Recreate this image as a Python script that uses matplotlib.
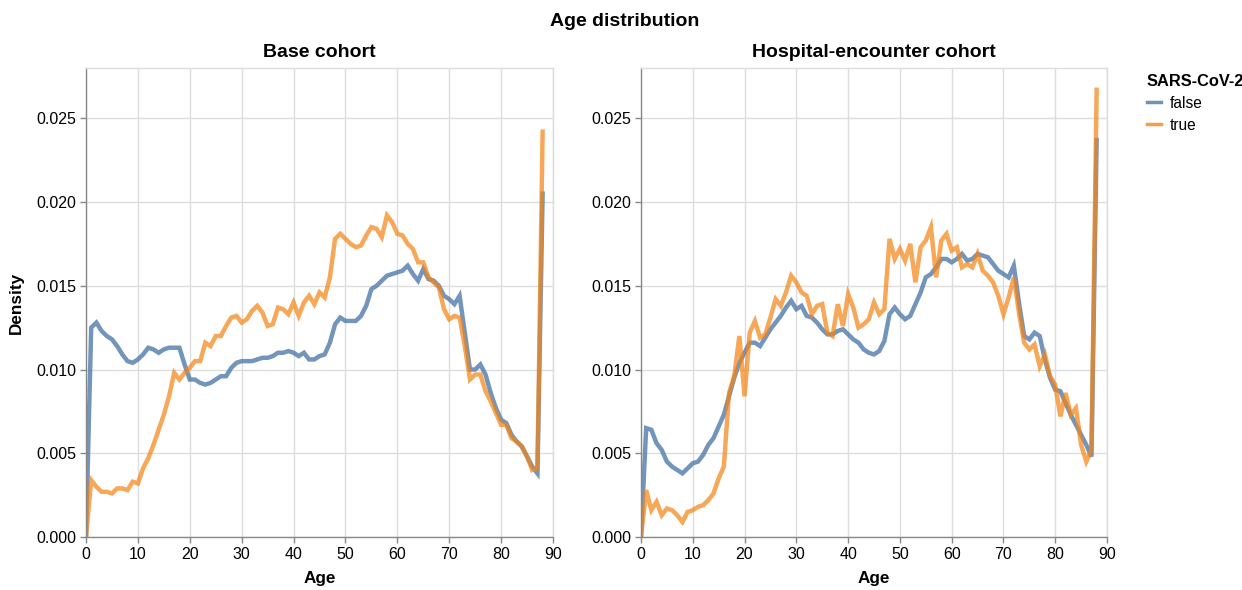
import numpy as np
import matplotlib
matplotlib.use('Agg')
import matplotlib.pyplot as plt
from matplotlib.lines import Line2D

plt.rcParams['font.family'] = ['Liberation Sans', 'DejaVu Sans']

ages = list(range(0, 89))

base_false = [0.0, 0.0125, 0.0128, 0.0123, 0.0120, 0.0118, 0.0114, 0.0109, 0.0105, 0.0104,
              0.0106, 0.0109, 0.0113, 0.0112, 0.0110, 0.0112, 0.0113, 0.0113, 0.0113, 0.0103,
              0.0094, 0.0094, 0.0092, 0.0091, 0.0092, 0.0094, 0.0096, 0.0096, 0.0101, 0.0104,
              0.0105, 0.0105, 0.0105, 0.0106, 0.0107, 0.0107, 0.0108, 0.0110, 0.0110, 0.0111,
              0.0110, 0.0108, 0.0110, 0.0106, 0.0106, 0.0108, 0.0109, 0.0116, 0.0127, 0.0131,
              0.0129, 0.0129, 0.0129, 0.0132, 0.0138, 0.0148, 0.0150, 0.0153, 0.0156, 0.0157,
              0.0158, 0.0159, 0.0162, 0.0157, 0.0153, 0.0160, 0.0154, 0.0153, 0.0150, 0.0144,
              0.0142, 0.0139, 0.0144, 0.0122, 0.0100, 0.0100, 0.0103, 0.0097, 0.0086, 0.0077,
              0.0070, 0.0068, 0.0061, 0.0057, 0.0054, 0.0048, 0.0042, 0.0038, 0.0205]

base_true = [0.0, 0.0034, 0.0030, 0.0027, 0.0027, 0.0026, 0.0029, 0.0029, 0.0028, 0.0033,
             0.0032, 0.0041, 0.0047, 0.0055, 0.0064, 0.0073, 0.0084, 0.0098, 0.0094, 0.0098,
             0.0101, 0.0105, 0.0105, 0.0116, 0.0114, 0.0120, 0.0120, 0.0126, 0.0131, 0.0132,
             0.0128, 0.0130, 0.0135, 0.0138, 0.0134, 0.0126, 0.0127, 0.0137, 0.0136, 0.0133,
             0.0140, 0.0132, 0.0140, 0.0144, 0.0139, 0.0146, 0.0143, 0.0155, 0.0178, 0.0181,
             0.0178, 0.0175, 0.0173, 0.0174, 0.0180, 0.0185, 0.0184, 0.0179, 0.0192, 0.0188,
             0.0181, 0.0180, 0.0175, 0.0172, 0.0164, 0.0164, 0.0155, 0.0152, 0.0149, 0.0136,
             0.0130, 0.0132, 0.0131, 0.0114, 0.0094, 0.0097, 0.0097, 0.0087, 0.0081, 0.0074,
             0.0067, 0.0067, 0.0059, 0.0057, 0.0054, 0.0048, 0.0040, 0.0041, 0.0242]

hosp_false = [0.0, 0.0065, 0.0064, 0.0056, 0.0052, 0.0045, 0.0042, 0.0040, 0.0038, 0.0041,
              0.0044, 0.0045, 0.0049, 0.0055, 0.0059, 0.0066, 0.0073, 0.0084, 0.0095, 0.0104,
              0.0110, 0.0116, 0.0116, 0.0114, 0.0119, 0.0124, 0.0128, 0.0132, 0.0137, 0.0141,
              0.0136, 0.0138, 0.0132, 0.0131, 0.0128, 0.0124, 0.0121, 0.0121, 0.0123, 0.0124,
              0.0121, 0.0118, 0.0116, 0.0112, 0.0110, 0.0109, 0.0111, 0.0117, 0.0133, 0.0137,
              0.0133, 0.0130, 0.0132, 0.0139, 0.0146, 0.0155, 0.0157, 0.0161, 0.0166, 0.0166,
              0.0164, 0.0166, 0.0169, 0.0165, 0.0166, 0.0169, 0.0168, 0.0167, 0.0163, 0.0159,
              0.0157, 0.0155, 0.0162, 0.0140, 0.0120, 0.0118, 0.0122, 0.0120, 0.0106, 0.0095,
              0.0088, 0.0087, 0.0080, 0.0073, 0.0067, 0.0061, 0.0055, 0.0048, 0.0237]

hosp_true = [0.0, 0.0028, 0.0016, 0.0021, 0.0013, 0.0017, 0.0016, 0.0013, 0.0009, 0.0015,
             0.0016, 0.0018, 0.0019, 0.0022, 0.0026, 0.0035, 0.0042, 0.0086, 0.0096, 0.0120,
             0.0084, 0.0122, 0.0129, 0.0119, 0.0121, 0.0131, 0.0142, 0.0138, 0.0146, 0.0156,
             0.0152, 0.0146, 0.0144, 0.0133, 0.0138, 0.0139, 0.0122, 0.0120, 0.0139, 0.0126,
             0.0145, 0.0137, 0.0125, 0.0127, 0.0130, 0.0140, 0.0133, 0.0136, 0.0178, 0.0166,
             0.0172, 0.0165, 0.0175, 0.0152, 0.0173, 0.0177, 0.0185, 0.0155, 0.0177, 0.0181,
             0.0171, 0.0173, 0.0161, 0.0163, 0.0161, 0.0169, 0.0159, 0.0156, 0.0152, 0.0144,
             0.0133, 0.0143, 0.0155, 0.0134, 0.0116, 0.0112, 0.0115, 0.0102, 0.0109, 0.0096,
             0.0091, 0.0072, 0.0086, 0.0073, 0.0077, 0.0055, 0.0045, 0.0052, 0.0267]

panels = ["Base cohort", "Hospital-encounter cohort"]
series_labels = ["false", "true"]
colors = ['#4c78a8', '#f58518']

W, H = 1242, 590
fig = plt.figure(figsize=(W / 100, H / 100), dpi=100)

def px_axes(x0, y0, x1, y1):
    return fig.add_axes([x0 / W, 1 - y1 / H, (x1 - x0) / W, (y1 - y0) / H])

ax1 = px_axes(86, 68, 553, 537)
ax2 = px_axes(641, 68, 1107, 537)

data = [(base_false, base_true), (hosp_false, hosp_true)]
yt = [0, 0.005, 0.01, 0.015, 0.02, 0.025]

for ax, title, (f, t) in zip([ax1, ax2], panels, data):
    ax.plot(ages, f, color=colors[0], lw=3.2, alpha=0.78, solid_joinstyle='miter')
    ax.plot(ages, t, color=colors[1], lw=3.2, alpha=0.72, solid_joinstyle='miter')
    ax.set_xlim(0, 90)
    ax.set_ylim(0, 0.028)
    ax.set_xticks(range(0, 91, 10))
    ax.set_yticks(yt)
    ax.set_yticklabels(['%.3f' % v for v in yt])
    ax.grid(True, color='#dddddd', lw=1)
    ax.set_axisbelow(True)
    for s in ['top', 'right']:
        ax.spines[s].set_color('#dddddd')
        ax.spines[s].set_linewidth(1)
    for s in ['left', 'bottom']:
        ax.spines[s].set_color('#888888')
        ax.spines[s].set_linewidth(1)
    ax.tick_params(length=4, width=1, color='#888888', labelsize=11.5, pad=3)
    ax.set_title(title, fontsize=14, fontweight='bold', pad=8)
    ax.set_xlabel("Age", fontsize=12.3, fontweight='bold', labelpad=7)

ax1.set_ylabel("Density", fontsize=12.3, fontweight='bold', labelpad=9)

fig.text(625 / W, 1 - 22 / H, "Age distribution", ha='center', va='center',
         fontsize=14, fontweight='bold')

handles = [Line2D([], [], color=c, lw=2.5, alpha=0.8) for c in colors]
leg = fig.legend(handles, series_labels, title="SARS-CoV-2", loc='upper left',
                 bbox_to_anchor=(1139 / W, 1 - 66 / H), frameon=False, borderpad=0,
                 handlelength=0.9, handletextpad=0.6, labelspacing=0.45,
                 fontsize=11.2, title_fontproperties={'weight': 'bold', 'size': 11.8})
leg._legend_box.align = 'left'

fig.savefig('out.png', dpi=100)
